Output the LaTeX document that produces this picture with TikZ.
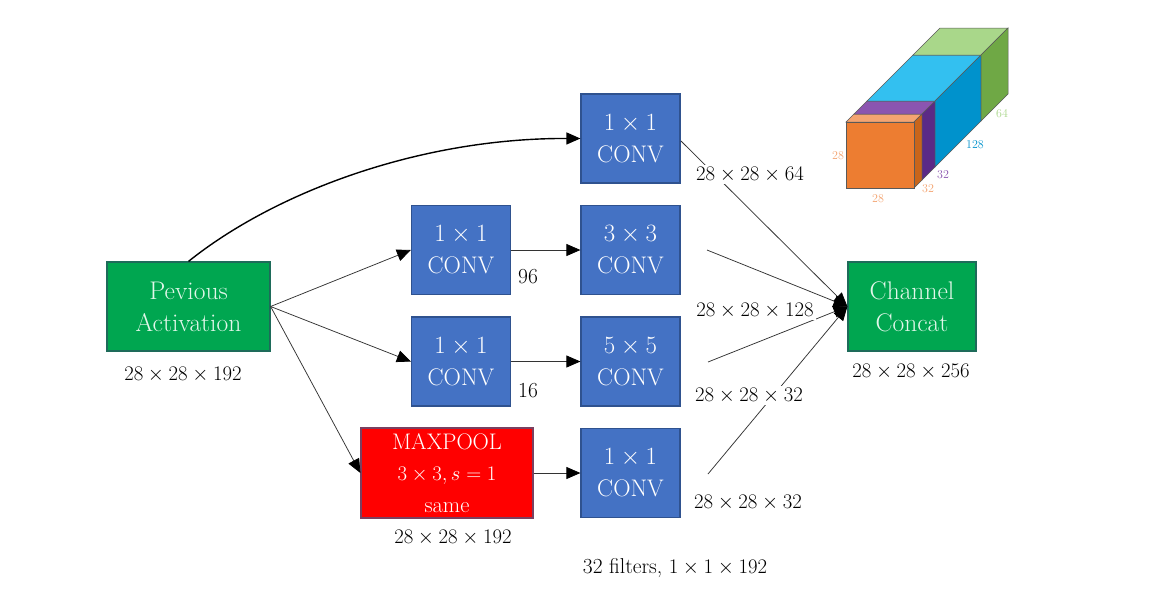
\documentclass[tikz,border=0pt]{standalone}
\usetikzlibrary{arrows.meta}
\definecolor{convblue}{HTML}{4472C4}
\definecolor{convedge}{HTML}{2F528F}
\definecolor{actgreen}{HTML}{00A650}
\definecolor{actedge}{HTML}{1E6B5A}
\definecolor{poolred}{HTML}{FF0000}
\definecolor{pooledge}{HTML}{7A4060}
\definecolor{mint}{HTML}{E2F7EA}
\definecolor{linegray}{HTML}{333333}
\definecolor{orF}{HTML}{ED7D31}
\definecolor{orT}{HTML}{F4A471}
\definecolor{orS}{HTML}{C8651B}
\definecolor{puT}{HTML}{8B55B0}
\definecolor{puS}{HTML}{5B2A86}
\definecolor{blT}{HTML}{33C0F0}
\definecolor{blS}{HTML}{0092CC}
\definecolor{grT}{HTML}{A9D78A}
\definecolor{grS}{HTML}{6FA845}
\definecolor{cubeedge}{HTML}{595959}
\tikzset{
  convbox/.style={draw=convedge, line width=1.2pt, fill=convblue, text=white,
    minimum width=99pt, minimum height=89pt, inner sep=0pt, align=center,
    font=\fontsize{24}{32}\selectfont},
  actbox/.style={draw=actedge, line width=1.2pt, fill=actgreen, text=mint,
    minimum width=163pt, minimum height=89pt, inner sep=0pt, align=center,
    font=\fontsize{25.5}{32}\selectfont},
  poolbox/.style={draw=pooledge, line width=1.2pt, fill=poolred, text=white,
    minimum width=172pt, minimum height=90pt, inner sep=0pt, align=center,
    font=\fontsize{22.5}{31.5}\selectfont},
  dimlabel/.style={anchor=base, font=\fontsize{21.5}{26}\selectfont, inner sep=2pt},
  covered/.style={dimlabel, fill=white},
  link/.style={draw=linegray, line width=0.75pt, -{Triangle[length=14pt,width=12pt,color=black]}},
  cubelabel/.style={anchor=base, font=\fontsize{12}{14}\selectfont, inner sep=0pt},
  cubeface/.style={draw=cubeedge, line width=0.5pt}
}
\begin{document}
\begin{tikzpicture}[x=1pt,y=-1pt]
\useasboundingbox (0,0) rectangle (1160,595);
\fill[white] (0,0) rectangle (1160,595);

% boxes
\node[actbox] (prev) at (188.5,306.5) {Pevious\\Activation};
\node[convbox] (c1top) at (630.5,138.5) {$1\times1$\\CONV};
\node[convbox] (c1a) at (461,250) {$1\times1$\\CONV};
\node[convbox] (c3) at (630.5,250) {$3\times3$\\CONV};
\node[convbox] (c1b) at (461,361.5) {$1\times1$\\CONV};
\node[convbox] (c5) at (630.5,361.5) {$5\times5$\\CONV};
\node[poolbox] (pool) at (447,473) {MAXPOOL\\$3\times3,s=1$\\same};
\node[convbox] (c1c) at (630.5,473) {$1\times1$\\CONV};
\node[actbox, minimum width=128pt] (concat) at (912,306.5) {Channel\\Concat};

% free ends of the lines into concat
\coordinate (e1) at (681,141);
\coordinate (e3) at (707,250);
\coordinate (e5) at (708,362);
\coordinate (e7) at (708,474);

% connectors
\draw[link, draw=black, line width=1.4pt] (prev.north) .. controls (275,192) and (420,138) .. (c1top.west);
\draw[link] (prev.east) -- (c1a.west);
\draw[link] (prev.east) -- (c1b.west);
\draw[link] (prev.east) -- (pool.west);
\draw[link] (c1a.east) -- (c3.west);
\draw[link] (c1b.east) -- (c5.west);
\draw[link] (pool.east) -- (c1c.west);
\draw[link] (e1) -- (concat.west);
\draw[link] (e3) -- (concat.west);
\draw[link] (e5) -- (concat.west);
\draw[link] (e7) -- (concat.west);

% labels
\node[dimlabel] (l192) at (183,380) {$28\times28\times192$};
\node[dimlabel] (l96) at (528,283) {96};
\node[dimlabel] (l16) at (528,397) {16};
\node[covered] (l64) at (750,180) {$28\times28\times64$};
\node[covered] (l128) at (755,316) {$28\times28\times128$};
\node[covered] (l32a) at (749,401) {$28\times28\times32$};
\node[dimlabel] (l32b) at (748,508) {$28\times28\times32$};
\node[dimlabel] (l256) at (911,377) {$28\times28\times256$};
\node[dimlabel] (lpool) at (453,543) {$28\times28\times192$};
\node[dimlabel] (lfilt) at (675,573) {32 filters, $1\times1\times192$};

% cube: front face (846,122)-(914,188), depth along (1,-1)
\foreach \a/\b/\ct/\cs in {0/8/orT/orS, 8/21/puT/puS, 21/67/blT/blS, 67/94/grT/grS}{
  \filldraw[cubeface, fill=\ct] (846+\a,122-\a) -- (914+\a,122-\a) -- (914+\b,122-\b) -- (846+\b,122-\b) -- cycle;
  \filldraw[cubeface, fill=\cs] (914+\a,122-\a) -- (914+\a,188-\a) -- (914+\b,188-\b) -- (914+\b,122-\b) -- cycle;
}
\filldraw[cubeface, fill=orF] (846,122) rectangle (914,188);
\node[cubelabel, text=orT] (k28a) at (838,159) {28};
\node[cubelabel, text=orT] (k28b) at (878,202) {28};
\node[cubelabel, text=orT] (k32a) at (928,192) {32};
\node[cubelabel, text=puT] (k32b) at (943,178) {32};
\node[cubelabel, text=blS] (k128) at (975,148) {128};
\node[cubelabel, text=grT] (k64) at (1002,117) {64};
\end{tikzpicture}
\end{document}
